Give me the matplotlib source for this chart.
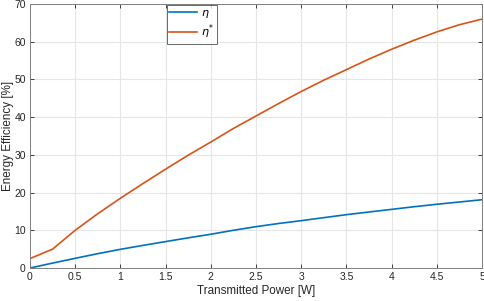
import matplotlib
matplotlib.use("Agg")
import matplotlib.pyplot as plt

power = [0, 0.25, 0.5, 0.75, 1.0, 1.25, 1.5, 1.75, 2.0, 2.25, 2.5, 2.75,
         3.0, 3.25, 3.5, 3.75, 4.0, 4.25, 4.5, 4.75, 5.0]
eta = [0, 1.3, 2.57, 3.8, 4.95, 6.0, 7.0, 8.0, 8.95, 10.0, 10.96, 11.8,
       12.55, 13.35, 14.14, 14.85, 15.55, 16.25, 16.9, 17.5, 18.1]
eta_star = [2.5, 5.0, 10.0, 14.4, 18.5, 22.4, 26.2, 29.9, 33.4, 37.0, 40.3, 43.6,
            46.8, 49.8, 52.6, 55.4, 58.0, 60.4, 62.6, 64.5, 66.0]
xticks = [0, 0.5, 1, 1.5, 2, 2.5, 3, 3.5, 4, 4.5, 5]
xticklabels = ["0", "0.5", "1", "1.5", "2", "2.5", "3", "3.5", "4", "4.5", "5"]
yticks = [0, 10, 20, 30, 40, 50, 60, 70]

plt.rcParams['font.family'] = ['Liberation Sans', 'DejaVu Sans']
plt.rcParams['mathtext.fontset'] = 'dejavusans'

fig = plt.figure(figsize=(4.85, 3.01), dpi=100)
ax = fig.add_axes([30/485, 33/301, 452/485, 264/301])

ax.plot(power, eta, color='#0072BD', lw=1.2, label=r'$\eta$')
ax.plot(power, eta_star, color='#D95319', lw=1.2, label=r'$\eta^{*}$')

ax.set_xlim(0, 5)
ax.set_ylim(0, 70)
ax.set_xticks(xticks)
ax.set_xticklabels(xticklabels)
ax.set_yticks(yticks)
ax.grid(True, color='#e6e6e6', lw=0.8)
ax.set_axisbelow(True)
ax.tick_params(direction='in', top=True, right=True, labelsize=7.5,
               colors='#262626', length=3, width=0.6, pad=3)
for tl in ax.get_xticklabels() + ax.get_yticklabels():
    tl.set_color('#262626')
for s in ax.spines.values():
    s.set_color('#808080')
    s.set_linewidth(0.7)

ax.set_xlabel('Transmitted Power [W]', fontsize=8.4, color='#262626', labelpad=2)
ax.set_ylabel('Energy Efficiency [%]', fontsize=8.4, color='#262626')
ax.yaxis.set_label_coords(-16/452, 0.5)

leg = ax.legend(loc='upper left', bbox_to_anchor=(0.30, 1.0), fontsize=8,
                frameon=True, fancybox=False, handlelength=2.5,
                borderpad=0.25, labelspacing=0.25, handletextpad=0.3,
                borderaxespad=0.1)
leg.get_frame().set_edgecolor('#262626')
leg.get_frame().set_linewidth(0.6)

fig.savefig('out.png', dpi=100)
